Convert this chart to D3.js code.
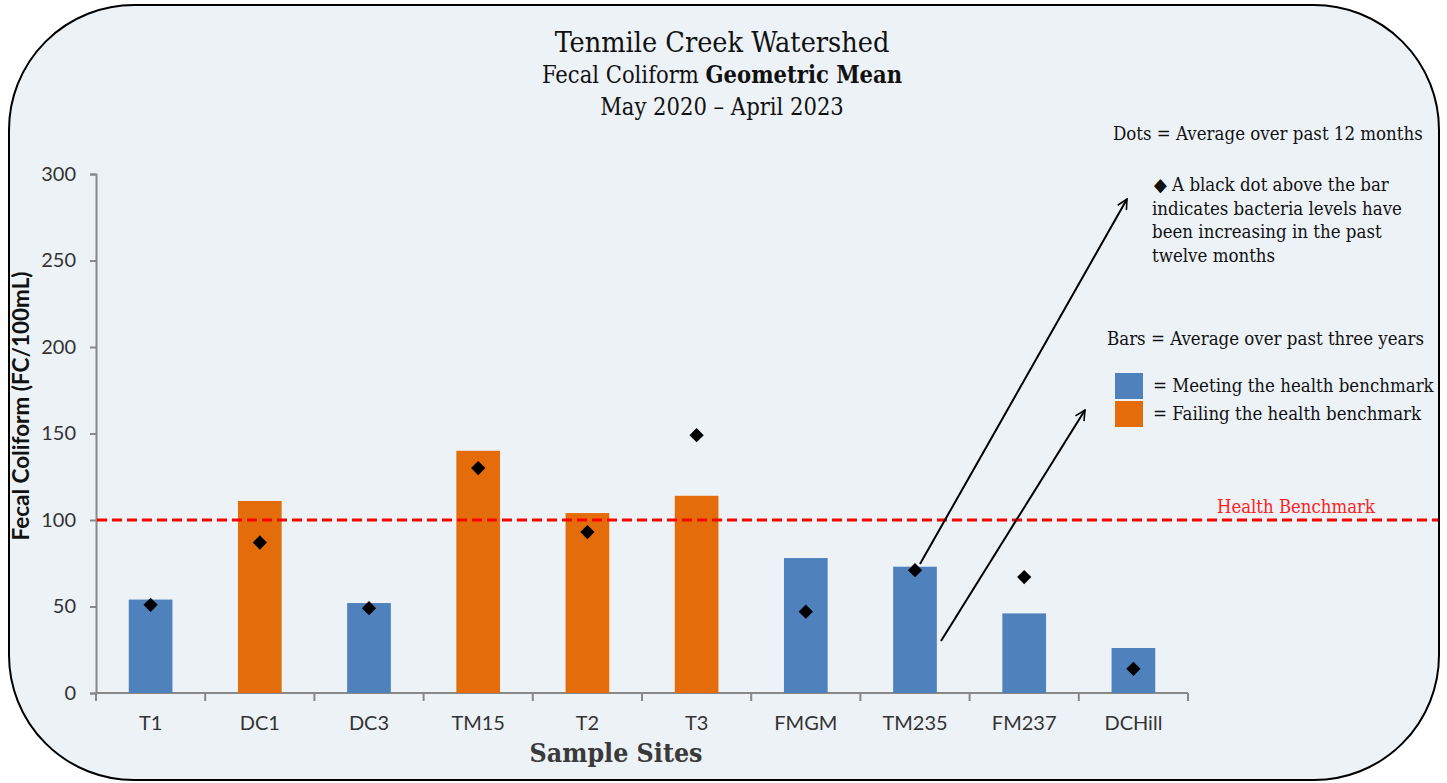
<!DOCTYPE html>
<html>
<head>
<meta charset="utf-8">
<script src="https://cdn.jsdelivr.net/npm/d3@7"></script>
<style>
  body { margin: 0; background: #fff; }
  svg { display: block; }
</style>
</head>
<body>
<script>
// data
var sites = ["T1", "DC1", "DC3", "TM15", "T2", "T3", "FMGM", "TM235", "FM237", "DCHill"];
var threeYear = [54, 111, 52, 140, 104, 114, 78, 73, 46, 26];
var twelveMonth = [51, 87, 49, 130, 93, 149, 47, 71, 67, 14];
var yTicks = [0, 50, 100, 150, 200, 250, 300];
var benchmark = 100;

var W = 1447, H = 783;
var blue = "#4f81bd", orange = "#e46c0a";
var serif = "'DejaVu Serif Condensed', 'DejaVu Serif', serif";
var sans = "Lato, 'Open Sans', sans-serif";

var svg = d3.select("body").append("svg")
    .attr("width", W)
    .attr("height", H);

svg.append("rect")
    .attr("x", 9).attr("y", 5)
    .attr("width", 1430).attr("height", 775)
    .attr("rx", 125).attr("ry", 125)
    .attr("fill", "#edf2f7")
    .attr("stroke", "#000")
    .attr("stroke-width", 2);

var x = d3.scaleBand()
    .domain(sites)
    .range([96, 1188])
    .paddingInner(0.6)
    .paddingOuter(0.3);

var xTick = d3.scaleLinear().domain([0, sites.length]).range([96, 1188]);

var y = d3.scaleLinear()
    .domain([0, 300])
    .range([693, 174]);

// titles
var title = svg.append("g").attr("font-family", serif).attr("fill", "#111").attr("text-anchor", "middle");
title.append("text").attr("x", 722).attr("y", 52).attr("font-size", 28.5).text("Tenmile Creek Watershed");
var t2 = title.append("text").attr("x", 722).attr("y", 83).attr("font-size", 23.5);
t2.append("tspan").text("Fecal Coliform ");
t2.append("tspan").attr("font-weight", "bold").text("Geometric Mean");
title.append("text").attr("x", 722).attr("y", 115).attr("font-size", 23.5).text("May 2020 \u2013 April 2023");

// y axis
var yAxis = svg.append("g")
    .attr("transform", "translate(96,0)")
    .call(d3.axisLeft(y).tickValues(yTicks).tickSize(6).tickPadding(14));
yAxis.select(".domain").attr("stroke", "#888").attr("stroke-width", 2);
yAxis.selectAll(".tick line").attr("stroke", "#888").attr("stroke-width", 2);
yAxis.selectAll("text").attr("font-family", sans).attr("font-size", 20).attr("fill", "#333");

// x axis
var xAxisG = svg.append("g").attr("transform", "translate(0,693)");
xAxisG.append("line")
    .attr("x1", 96).attr("x2", 1188)
    .attr("stroke", "#888").attr("stroke-width", 2);
xAxisG.selectAll(".tk")
    .data(d3.range(sites.length + 1))
    .enter().append("line")
    .attr("x1", function(d) { return xTick(d); })
    .attr("x2", function(d) { return xTick(d); })
    .attr("y1", 0).attr("y2", 8)
    .attr("stroke", "#888").attr("stroke-width", 2);
xAxisG.selectAll(".lbl")
    .data(sites)
    .enter().append("text")
    .attr("x", function(d) { return x(d) + x.bandwidth() / 2; })
    .attr("y", 37)
    .attr("text-anchor", "middle")
    .attr("font-family", sans).attr("font-size", 20).attr("fill", "#333")
    .text(function(d) { return d; });

svg.append("text")
    .attr("x", 616).attr("y", 762)
    .attr("text-anchor", "middle")
    .attr("font-family", serif).attr("font-weight", "bold")
    .attr("font-size", 26.5).attr("fill", "#3a3a3a")
    .text("Sample Sites");

svg.append("text")
    .attr("transform", "translate(29,406) rotate(-90)")
    .attr("text-anchor", "middle")
    .attr("font-family", sans).attr("font-weight", "bold")
    .attr("font-size", 22.5).attr("fill", "#111")
    .text("Fecal Coliform (FC/100mL)");

// bars
svg.selectAll(".bar")
    .data(sites)
    .enter().append("rect")
    .attr("x", function(d) { return x(d); })
    .attr("width", x.bandwidth())
    .attr("y", function(d, i) { return y(threeYear[i]); })
    .attr("height", function(d, i) { return y(0) - y(threeYear[i]); })
    .attr("fill", function(d, i) { return threeYear[i] > benchmark ? orange : blue; });

// benchmark line
svg.append("line")
    .attr("x1", 97).attr("x2", 1438)
    .attr("y1", y(benchmark)).attr("y2", y(benchmark))
    .attr("stroke", "#ff0000").attr("stroke-width", 3)
    .attr("stroke-dasharray", "10,5");
svg.append("text")
    .attr("x", 1217).attr("y", y(benchmark) - 7)
    .attr("font-family", serif).attr("font-size", 18.4).attr("fill", "#ff2020")
    .text("Health Benchmark");

// dots
var diamond = d3.symbol().type(d3.symbolDiamond2).size(130);
svg.selectAll(".dot")
    .data(sites)
    .enter().append("path")
    .attr("d", diamond)
    .attr("transform", function(d, i) {
        return "translate(" + (x(d) + x.bandwidth() / 2) + "," + y(twelveMonth[i]) + ")";
    })
    .attr("fill", "#000");

// arrows
var defs = svg.append("defs");
defs.append("marker")
    .attr("id", "arr")
    .attr("viewBox", "0 0 12 12")
    .attr("refX", 11).attr("refY", 6)
    .attr("markerWidth", 12).attr("markerHeight", 12)
    .attr("markerUnits", "userSpaceOnUse")
    .attr("orient", "auto")
    .append("path")
    .attr("d", "M1,1 L11,6 L1,11")
    .attr("fill", "none").attr("stroke", "#000").attr("stroke-width", 1.6);

svg.append("line")
    .attr("x1", 920).attr("y1", 564).attr("x2", 1127).attr("y2", 199)
    .attr("stroke", "#000").attr("stroke-width", 2)
    .attr("marker-end", "url(#arr)");
svg.append("line")
    .attr("x1", 941).attr("y1", 641).attr("x2", 1085).attr("y2", 410)
    .attr("stroke", "#000").attr("stroke-width", 2)
    .attr("marker-end", "url(#arr)");

// notes and legend
var notes = svg.append("g").attr("font-family", serif).attr("font-size", 18.5).attr("fill", "#111");
notes.append("text").attr("x", 1113).attr("y", 140).text("Dots = Average over past 12 months");
var noteLines = ["\u25C6  A black dot above the bar", "indicates bacteria levels have", "been increasing in the past", "twelve months"];
notes.selectAll(".nl")
    .data(noteLines)
    .enter().append("text")
    .attr("x", function(d, i) { return i === 0 ? 1154 : 1152; })
    .attr("y", function(d, i) { return 191 + i * 23.5; })
    .text(function(d) { return d; });
notes.append("text").attr("x", 1107).attr("y", 345).text("Bars = Average over past three years");

var legend = [
    { color: blue, label: "= Meeting the health benchmark" },
    { color: orange, label: "= Failing the health benchmark" }
];
var lg = notes.selectAll(".lg")
    .data(legend)
    .enter().append("g")
    .attr("transform", function(d, i) { return "translate(1115," + (373 + i * 28) + ")"; });
lg.append("rect").attr("width", 28).attr("height", 26).attr("fill", function(d) { return d.color; });
lg.append("text").attr("x", 38).attr("y", 19).text(function(d) { return d.label; });
</script>
</body>
</html>
